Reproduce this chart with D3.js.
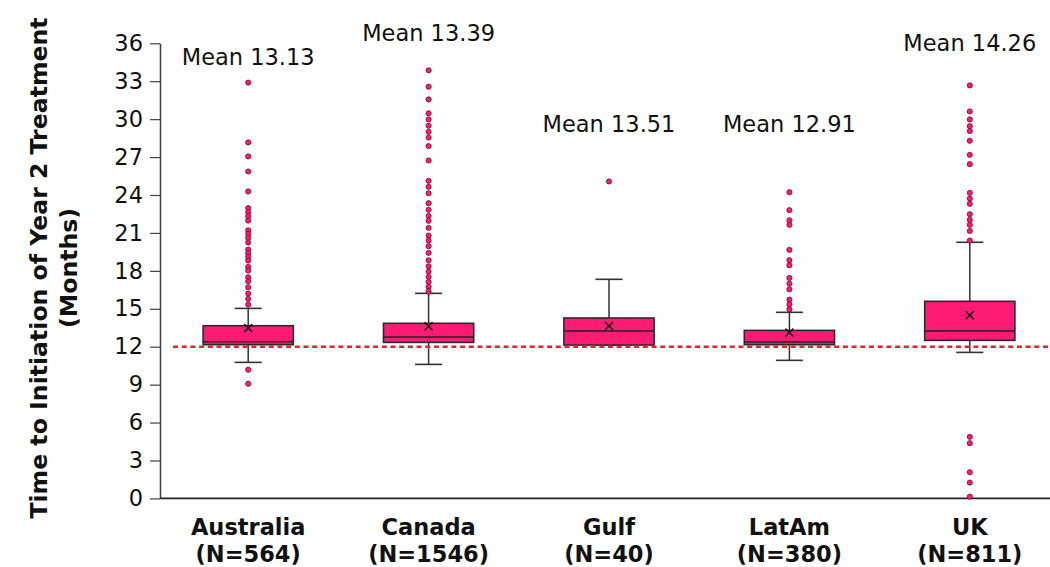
<!DOCTYPE html>
<html>
<head>
<meta charset="utf-8">
<script src="https://cdn.jsdelivr.net/npm/d3@7"></script>
<style>
  html, body { margin: 0; padding: 0; background: #fff; }
  svg { display: block; font-family: "DejaVu Sans", Verdana, sans-serif; }
</style>
</head>
<body>
<svg id="chart" width="1050" height="567"></svg>
<script>
// ---- data ----
const categories = ["Australia", "Canada", "Gulf", "LatAm", "UK"];
const nLabels = ["(N=564)", "(N=1546)", "(N=40)", "(N=380)", "(N=811)"];
const meanLabels = ["Mean 13.13", "Mean 13.39", "Mean 13.51", "Mean 12.91", "Mean 14.26"];
const meanLabelAt = [34.3, 36.2, 29.0, 29.0, 35.4];   // value level of each mean label
const whiskerLow  = [10.76, 10.60, 12.13, 10.92, 11.55];
const q1          = [12.16, 12.34, 12.13, 12.16, 12.50];
const median      = [12.40, 12.77, 13.24, 12.37, 13.24];
const q3          = [13.66, 13.85, 14.27, 13.29, 15.59];
const whiskerHigh = [15.03, 16.22, 17.33, 14.72, 20.26];
const meanMarker  = [13.48, 13.61, 13.64, 13.13, 14.48];
const outliersAustralia = [32.89, 28.16, 27.05, 25.86, 24.28, 22.96, 22.64, 22.32, 21.98, 21.21, 20.92, 20.61, 20.24,
  19.68, 19.39, 19.10, 18.81, 18.31, 18.02, 17.49, 17.17, 16.70, 16.20, 15.78, 15.33, 10.18, 9.07];
const outliersCanada = [33.86, 32.57, 31.56, 30.46, 29.98, 29.48, 29.00, 28.55, 27.87, 26.73, 25.12, 24.65, 24.14,
  23.35, 22.83, 22.35, 21.96, 21.40, 20.79, 20.40, 19.95, 19.42, 18.84, 18.36, 17.94, 17.52, 17.12, 16.73, 16.36];
const outliersGulf = [25.07];
const outliersLatAm = [24.22, 22.80, 22.00, 21.64, 19.66, 18.84, 18.44, 17.44, 16.99, 16.54, 15.72, 15.35, 14.96];
const outliersUK = [32.67, 30.61, 29.98, 29.45, 29.06, 28.29, 27.18, 26.44, 24.17, 23.72, 23.30, 22.48, 22.03,
  21.64, 21.16, 20.40, 4.87, 4.37, 2.07, 1.25, 0.14];
const outliers = [outliersAustralia, outliersCanada, outliersGulf, outliersLatAm, outliersUK];
const yTickValues = [0, 3, 6, 9, 12, 15, 18, 21, 24, 27, 30, 33, 36];
const yTitle = ["Time to Initiation of Year 2 Treatment", "(Months)"];
const referenceLine = 12;

// ---- layout ----
const W = 1050, H = 567;
const mLeft = 160, mRight = 1060, mTop = 43.3, mBottom = 498.4;
const pink = "#ff1b74";
const svg = d3.select("#chart");

const x = d3.scaleBand().domain(categories).range([mLeft - 2, mRight]).paddingInner(0).paddingOuter(0);
const y = d3.scaleLinear().domain([0, 36]).range([mBottom, mTop]);

// y axis
const yAxis = d3.axisLeft(y).tickValues(yTickValues).tickSize(10).tickPadding(7).tickSizeOuter(0);
const gy = svg.append("g").attr("transform", `translate(${mLeft},0)`).call(yAxis);
gy.select(".domain").attr("stroke", "#404040").attr("stroke-width", 1.5);
gy.selectAll(".tick line").attr("stroke", "#404040").attr("stroke-width", 1.2);
gy.selectAll(".tick text").attr("font-size", 22.5).attr("fill", "#111")
  .attr("font-family", "DejaVu Sans, Verdana, sans-serif");

// x axis line + labels
const xAxis = d3.axisBottom(x).tickSize(0).tickSizeOuter(0).tickFormat(() => "");
const gx = svg.append("g").attr("transform", `translate(0,${mBottom})`).call(xAxis);
gx.select(".domain").attr("stroke", "#222").attr("stroke-width", 1.6)
  .attr("d", `M${mLeft},0H${W}`);

const cats = categories.map((c, i) => ({
  c, i, lo: whiskerLow[i], q1: q1[i], med: median[i], q3: q3[i], hi: whiskerHigh[i],
  mean: meanMarker[i], out: outliers[i], label: meanLabels[i], labelAt: meanLabelAt[i], n: nLabels[i]
}));
const cx = d => x(d.c) + x.bandwidth() / 2;
const boxW = x.bandwidth() * 0.5;
const capW = x.bandwidth() * 0.15;

const xl = svg.append("g").attr("font-weight", "bold").attr("font-size", 22.5).attr("fill", "#111")
  .attr("text-anchor", "middle");
xl.selectAll("text.cat").data(cats).join("text").attr("class", "cat")
  .attr("x", cx).attr("y", mBottom + 36.5).text(d => d.c);
xl.selectAll("text.n").data(cats).join("text").attr("class", "n")
  .attr("x", cx).attr("y", mBottom + 63.5).text(d => d.n);

// y title
const yt = svg.append("g").attr("font-weight", "bold").attr("font-size", 23.6).attr("fill", "#111")
  .attr("text-anchor", "middle");
yt.selectAll("text").data(yTitle).join("text")
  .attr("transform", (d, i) => `translate(${47 + i * 30},${268}) rotate(-90)`)
  .text(d => d);

// boxes
const g = svg.append("g");
const box = g.selectAll("g.box").data(cats).join("g").attr("class", "box");

// whiskers
box.append("line").attr("x1", cx).attr("x2", cx).attr("y1", d => y(d.q3)).attr("y2", d => y(d.hi))
  .attr("stroke", "#333").attr("stroke-width", 1.5);
box.append("line").attr("x1", cx).attr("x2", cx).attr("y1", d => y(d.q1)).attr("y2", d => y(d.lo))
  .attr("stroke", "#333").attr("stroke-width", 1.5);
box.append("line").attr("x1", d => cx(d) - capW / 2).attr("x2", d => cx(d) + capW / 2)
  .attr("y1", d => y(d.hi)).attr("y2", d => y(d.hi)).attr("stroke", "#333").attr("stroke-width", 1.6);
box.append("line").attr("x1", d => cx(d) - capW / 2).attr("x2", d => cx(d) + capW / 2)
  .attr("y1", d => y(d.lo)).attr("y2", d => y(d.lo)).attr("stroke", "#333").attr("stroke-width", 1.6);

// box rect
box.append("rect").attr("x", d => cx(d) - boxW / 2).attr("width", boxW)
  .attr("y", d => y(d.q3)).attr("height", d => y(d.q1) - y(d.q3))
  .attr("fill", pink).attr("stroke", "#2a2a2a").attr("stroke-width", 1.6);
// median
box.append("line").attr("x1", d => cx(d) - boxW / 2).attr("x2", d => cx(d) + boxW / 2)
  .attr("y1", d => y(d.med)).attr("y2", d => y(d.med)).attr("stroke", "#222").attr("stroke-width", 1.5);
// mean marker (x)
const ms = 4;
box.append("path")
  .attr("d", d => {
    const px = cx(d), py = y(d.mean);
    return `M${px - ms},${py - ms}L${px + ms},${py + ms}M${px - ms},${py + ms}L${px + ms},${py - ms}`;
  })
  .attr("stroke", "#111").attr("stroke-width", 1.4).attr("fill", "none");

// outliers
box.each(function (d) {
  d3.select(this).selectAll("circle").data(d.out).join("circle")
    .attr("cx", cx(d)).attr("cy", v => y(v)).attr("r", 2.6)
    .attr("fill", pink).attr("stroke", "#6b1034").attr("stroke-width", 0.8);
});

// mean labels
box.append("text").attr("x", cx).attr("y", d => y(d.labelAt)).attr("text-anchor", "middle")
  .attr("font-size", 22.5).attr("fill", "#111").text(d => d.label);

// reference line at 12 months
svg.append("line").attr("x1", 173).attr("x2", W).attr("y1", y(referenceLine)).attr("y2", y(referenceLine))
  .attr("stroke", "#e8202c").attr("stroke-width", 2.4).attr("stroke-dasharray", "5,3.7");
</script>
</body>
</html>
